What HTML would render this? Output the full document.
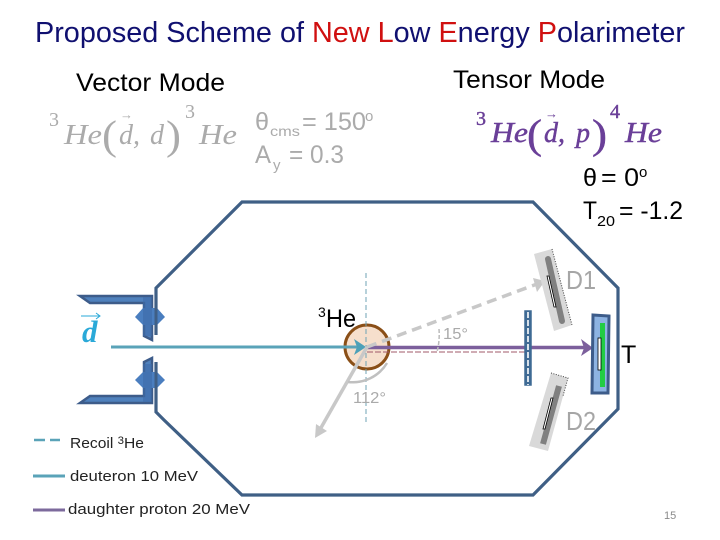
<!DOCTYPE html>
<html><head><meta charset="utf-8"><style>
html,body{margin:0;padding:0;background:#fff}
svg{display:block}
text{font-family:"Liberation Sans",sans-serif}
.s{font-family:"Liberation Serif",serif;font-style:italic}
.r{font-family:"Liberation Serif",serif}
</style></head><body>
<svg width="720" height="540" viewBox="0 0 720 540" xmlns="http://www.w3.org/2000/svg">
<rect width="720" height="540" fill="#fff"/>
<text x="35" y="42" font-size="29" fill="#101070" textLength="650" lengthAdjust="spacingAndGlyphs">Proposed Scheme of <tspan fill="#d01010">New L</tspan>ow <tspan fill="#d01010">E</tspan>nergy <tspan fill="#d01010">P</tspan>olarimeter</text>
<text x="76" y="91" font-size="25" fill="#000" textLength="149" lengthAdjust="spacingAndGlyphs">Vector Mode</text>
<text x="453" y="88" font-size="25" fill="#000" textLength="152" lengthAdjust="spacingAndGlyphs">Tensor Mode</text>

<!-- vector formula -->
<g fill="#ababab">
<text class="r" x="49" y="126" font-size="20">3</text>
<text class="s" x="64" y="144" font-size="28" textLength="38" lengthAdjust="spacingAndGlyphs">He</text>
<text class="r" x="102" y="149" font-size="41" textLength="15" lengthAdjust="spacingAndGlyphs">(</text>
<text class="s" x="119" y="144" font-size="28">d,</text>
<text x="120" y="119" font-size="13">→</text>
<text class="s" x="150" y="144" font-size="28">d</text>
<text class="r" x="166" y="149" font-size="41" textLength="15" lengthAdjust="spacingAndGlyphs">)</text>
<text class="r" x="185" y="118" font-size="20">3</text>
<text class="s" x="199" y="144" font-size="28" textLength="38" lengthAdjust="spacingAndGlyphs">He</text>
<text x="255" y="130" font-size="25" textLength="14" lengthAdjust="spacingAndGlyphs">θ</text>
<text x="270" y="136" font-size="14" textLength="30" lengthAdjust="spacingAndGlyphs">cms</text>
<text x="302" y="130" font-size="25" textLength="64" lengthAdjust="spacingAndGlyphs">= 150</text>
<text x="365" y="121" font-size="15">o</text>
<text x="255" y="163" font-size="25" textLength="16" lengthAdjust="spacingAndGlyphs">A</text>
<text x="273" y="170" font-size="15">y</text>
<text x="289" y="163" font-size="25" textLength="55" lengthAdjust="spacingAndGlyphs">= 0.3</text>
</g>

<!-- tensor formula -->
<g fill="#6a3f98" stroke="#6a3f98" stroke-width=".45">
<text class="r" x="476" y="125" font-size="20">3</text>
<text class="s" x="491" y="142" font-size="28" textLength="37" lengthAdjust="spacingAndGlyphs">He</text>
<text class="r" x="527" y="148" font-size="41" textLength="15" lengthAdjust="spacingAndGlyphs">(</text>
<text class="s" x="544" y="142" font-size="28">d,</text>
<text x="545" y="118" font-size="13" stroke="none">→</text>
<text class="s" x="576" y="142" font-size="28">p</text>
<text class="r" x="592" y="148" font-size="41" textLength="15" lengthAdjust="spacingAndGlyphs">)</text>
<text class="r" x="610" y="118" font-size="20">4</text>
<text class="s" x="625" y="142" font-size="28" textLength="37" lengthAdjust="spacingAndGlyphs">He</text>
</g>
<text x="583" y="186" font-size="25" fill="#000" textLength="14" lengthAdjust="spacingAndGlyphs">θ</text>
<text x="601" y="186" font-size="25" fill="#000" textLength="38" lengthAdjust="spacingAndGlyphs">= 0</text>
<text x="639" y="177" font-size="15" fill="#000">o</text>
<text x="583" y="219" font-size="25" fill="#000" textLength="14" lengthAdjust="spacingAndGlyphs">T</text>
<text x="597" y="226" font-size="15" fill="#000" textLength="18" lengthAdjust="spacingAndGlyphs">20</text>
<text x="619" y="219" font-size="25" fill="#000" textLength="64" lengthAdjust="spacingAndGlyphs">= -1.2</text>

<!-- chamber -->
<path d="M156 335V288L242 202H533L618 288V409L533 495H242L164 420L156 412V362" fill="none" stroke="#3f5f85" stroke-width="3.2"/>

<!-- beam pipe -->
<g fill="#4f81bd" stroke="#3d5c8a" stroke-width="2.5">
<polygon points="80,296 152,296 152,340 144,336 144,303 90,303"/>
<polygon points="80,403 152,403 152,358 144,362 144,396 90,396"/>
</g>
<g fill="#4a7ebf">
<polygon points="135,317 143,308 157,308 165,317 157,325 143,325"/>
<polygon points="135,380 143,372 157,372 165,380 157,388 143,388"/>
</g>
<rect x="143" y="297" width="9" height="39" fill="#3d6aa8" opacity=".6"/>
<rect x="143" y="364" width="9" height="38" fill="#3d6aa8" opacity=".6"/>
<path d="M156 335V288M156 362V412" stroke="#3f5f85" stroke-width="3" fill="none"/>
<text class="s" x="82" y="342" font-size="31" font-weight="bold" fill="#2aa9d8">d</text>
<path d="M81 316H100M96 313L100 316L96 319" stroke="#2aa9d8" stroke-width="1" fill="none"/>

<!-- target cell & lines -->
<circle cx="367" cy="347" r="22" fill="#f6dfcc" stroke="#8a4f17" stroke-width="3"/>
<path d="M366 273V422" stroke="#6fa3b5" stroke-width="1" stroke-dasharray="5 3" fill="none"/>
<path d="M367 352H525" stroke="#a05a6a" stroke-width="1" stroke-dasharray="6 2" fill="none"/>
<path d="M111 347H360" stroke="#5aa3b8" stroke-width="3" fill="none"/>
<polygon points="354,339 366,347 354,355 357,347" fill="#4ca0b8"/>
<path d="M367 347.5H585" stroke="#7c5f9c" stroke-width="3.5" fill="none"/>
<polygon points="581,339 593,348 581,356 584,348" fill="#7c5f9c"/>
<!-- recoil -->
<path d="M367 347L537 284" stroke="#c8c8c8" stroke-width="3.5" stroke-dasharray="10 6" fill="none"/>
<polygon points="533,278 545,281 537,292" fill="#c8c8c8"/>
<path d="M367 347L318 433" stroke="#c8c8c8" stroke-width="3.5" fill="none"/>
<polygon points="315,438 316,424 327,431" fill="#c8c8c8"/>
<path d="M348 382A40 40 0 0 0 387 363" stroke="#c0c0c0" stroke-width="2.5" fill="none"/>
<path d="M439 329A70 70 0 0 1 437 352" stroke="#bbb" stroke-width="1.5" stroke-dasharray="4 2" fill="none"/>
<text x="353" y="403" font-size="16" fill="#aaa" textLength="33" lengthAdjust="spacingAndGlyphs">112°</text>
<text x="443" y="339" font-size="16" fill="#aaa" textLength="25" lengthAdjust="spacingAndGlyphs">15°</text>
<text x="318" y="317" font-size="14" fill="#000">3</text>
<text x="326" y="327" font-size="25" fill="#000" textLength="30" lengthAdjust="spacingAndGlyphs">He</text>

<!-- collimator -->
<rect x="525" y="311" width="6" height="74" fill="#3f6a94" stroke="#3f6a94" stroke-width="1.5"/>
<path d="M528 312V385" stroke="#fff" stroke-width="1.6" stroke-dasharray="6 2" fill="none"/>

<!-- D1 -->
<polygon points="534,254 552,249 572,325 554,331" fill="#d9d9d9"/>
<path d="M552 249L572 325" stroke="#444" stroke-width="1" stroke-dasharray="1 1.5" fill="none"/>
<path d="M548 259L562 321" stroke="#808080" stroke-width="6" stroke-linecap="round" fill="none"/>
<polygon points="547,276 549,276 556,307 554,307" fill="#fff" stroke="#000" stroke-width=".8"/>
<text x="566" y="289" font-size="26" fill="#a6a6a6" textLength="30" lengthAdjust="spacingAndGlyphs">D1</text>

<!-- D2 -->
<polygon points="551,373 568,378 548,451 529,446" fill="#d9d9d9"/>
<path d="M551 373L568 378L563 396" stroke="#444" stroke-width="1" stroke-dasharray="1 1.5" fill="none"/>
<path d="M559 386L543 444" stroke="#808080" stroke-width="6" fill="none"/>
<polygon points="551,398 553,398 545,429 543,429" fill="#fff" stroke="#000" stroke-width=".8"/>
<text x="566" y="430" font-size="26" fill="#a6a6a6" textLength="30" lengthAdjust="spacingAndGlyphs">D2</text>

<!-- target T -->
<polygon points="593,315 609,316 608,393 592,393" fill="#8db3e2" stroke="#3d5c8a" stroke-width="3"/>
<rect x="600" y="323" width="5" height="64" fill="#22cc44"/>
<rect x="598" y="338" width="3" height="32" fill="#fff" stroke="#000" stroke-width=".8"/>
<text x="621" y="363" font-size="25" fill="#000">T</text>

<!-- legend -->
<path d="M34 440H45M50 440H60" stroke="#5aa3b8" stroke-width="2.5" fill="none"/>
<text x="70" y="448" font-size="15" fill="#222" textLength="74" lengthAdjust="spacingAndGlyphs">Recoil <tspan font-size="11" dy="-4">3</tspan><tspan dy="4">He</tspan></text>
<path d="M33 476H65" stroke="#5aa3b8" stroke-width="3" fill="none"/>
<text x="70" y="481" font-size="15" fill="#222" textLength="128" lengthAdjust="spacingAndGlyphs">deuteron 10 MeV</text>
<path d="M33 510H65" stroke="#7c6a9c" stroke-width="3" fill="none"/>
<text x="68" y="514" font-size="15" fill="#222" textLength="182" lengthAdjust="spacingAndGlyphs">daughter proton 20 MeV</text>
<text x="664" y="519" font-size="11" fill="#8a8a8a">15</text>
</svg>
</body></html>
